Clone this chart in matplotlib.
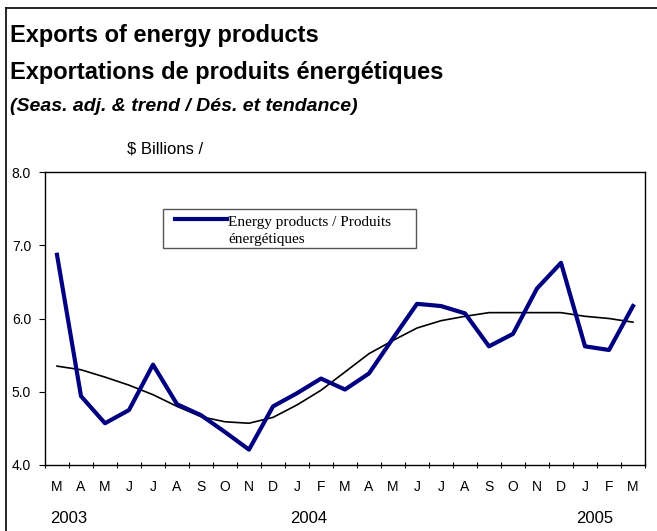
import matplotlib
matplotlib.use("Agg")
import matplotlib.pyplot as plt
from matplotlib.lines import Line2D

months = ["M", "A", "M", "J", "J", "A", "S", "O", "N", "D", "J", "F",
          "M", "A", "M", "J", "J", "A", "S", "O", "N", "D", "J", "F", "M"]
years = ["2003", "2004", "2005"]
energy = [6.87, 4.94, 4.57, 4.75, 5.37, 4.83, 4.68, 4.45, 4.21, 4.80, 4.98, 5.18,
          5.03, 5.25, 5.73, 6.20, 6.17, 6.07, 5.62, 5.79, 6.41, 6.76, 5.62, 5.57, 6.17]
trend = [5.35, 5.30, 5.20, 5.09, 4.96, 4.80, 4.66, 4.59, 4.57, 4.65, 4.82, 5.02,
         5.27, 5.52, 5.70, 5.87, 5.97, 6.03, 6.08, 6.08, 6.08, 6.08, 6.03, 6.00, 5.95]
yticks = [4.0, 5.0, 6.0, 7.0, 8.0]

W, H = 657, 531
fig = plt.figure(figsize=(W / 100, H / 100), dpi=100)
sans = "Liberation Sans"

# outer frame (left and top)
fig.add_artist(Line2D([6 / W, 6 / W], [0, 1 - 8 / H], transform=fig.transFigure, color="black", lw=1.2))
fig.add_artist(Line2D([6 / W, 1], [1 - 8 / H, 1 - 8 / H], transform=fig.transFigure, color="black", lw=1.2))

fig.text(10 / W, 1 - 42 / H, "Exports of energy products", fontsize=17, fontweight="bold", family=sans)
fig.text(10 / W, 1 - 79 / H, "Exportations de produits énergétiques", fontsize=17, fontweight="bold", family=sans)
fig.text(10 / W, 1 - 111 / H, "(Seas. adj. & trend / Dés. et tendance)", fontsize=14, fontweight="bold",
         style="italic", family=sans)
fig.text(127 / W, 1 - 154 / H, "$ Billions /", fontsize=12, family=sans)

left, right, top, bottom = 45, 645, 172, 465
ax = fig.add_axes([left / W, 1 - bottom / H, (right - left) / W, (bottom - top) / H])
n = len(months)
x = list(range(n))
ax.plot(x, trend, color="black", lw=1.2, zorder=2)
ax.plot(x, energy, color="#000080", lw=3, zorder=3)
ax.set_xlim(-0.5, n - 0.5)
ax.set_ylim(4.0, 8.0)
ax.set_yticks(yticks)
ax.set_yticklabels([f"{v:.1f}" for v in yticks], family=sans, fontsize=10)
ax.tick_params(axis="y", length=4, direction="out", pad=6)
ax.set_xticks([i - 0.5 for i in range(n + 1)])
ax.set_xticklabels([])
ax.tick_params(axis="x", length=4, direction="inout")
for sp in ax.spines.values():
    sp.set_linewidth(1.0)
for i, m in enumerate(months):
    ax.text(i, -0.075, m, transform=ax.get_xaxis_transform(), ha="center", va="center",
            fontsize=10, family=sans)
year_pos = [0.5, 10.5, 22.4]
for p, yr in zip(year_pos, years):
    ax.text(p, -0.184, yr, transform=ax.get_xaxis_transform(), ha="center", va="center",
            fontsize=12, family=sans)

# legend box
lx0, ly0, lx1, ly1 = 163, 209, 416, 248
fig.patches.append(plt.Rectangle((lx0 / W, 1 - ly1 / H), (lx1 - lx0) / W, (ly1 - ly0) / H,
                                 transform=fig.transFigure, fill=True, facecolor="white",
                                 edgecolor="#555555", lw=1.0, zorder=5))
fig.add_artist(Line2D([175 / W, 227 / W], [1 - 219 / H, 1 - 219 / H], transform=fig.transFigure,
                      color="#000080", lw=3, zorder=6))
fig.text(228 / W, 1 - 226 / H, "Energy products / Produits", fontsize=11,
         family="Liberation Serif", zorder=6)
fig.text(228 / W, 1 - 243 / H, "énergétiques", fontsize=11, family="Liberation Serif", zorder=6)

fig.savefig("out.png", dpi=100)
